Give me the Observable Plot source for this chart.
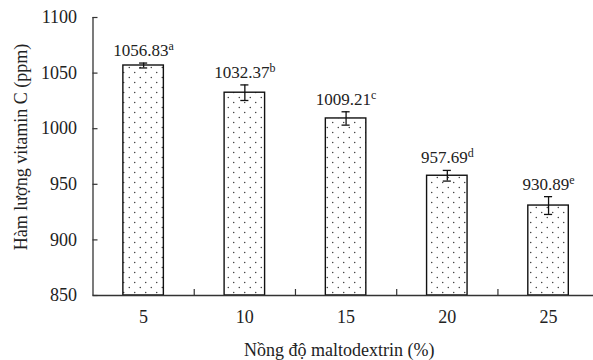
<!DOCTYPE html>
<html>
<head>
<meta charset="utf-8">
<script src="https://cdn.jsdelivr.net/npm/d3@7"></script>
<script src="https://cdn.jsdelivr.net/npm/@observablehq/plot@0.6"></script>
<style>
  html, body { margin: 0; padding: 0; background: #fff; }
  #chart svg { display: block; }
</style>
</head>
<body>
<div id="chart"></div>
<script>
// Data
const concentrations = [5, 10, 15, 20, 25];
const vitaminC = [1056.83, 1032.37, 1009.21, 957.69, 930.89];
const errors = [2.2, 7, 6, 4.8, 8];
const letters = ["a", "b", "c", "d", "e"];
const yTicks = [850, 900, 950, 1000, 1050, 1100];
const xTitle = "Nồng độ maltodextrin (%)";
const yTitle = "Hàm lượng vitamin C (ppm)";

const W = 593, H = 360;
const mL = 92.5, mR = 0, mT = 17, mB = 65;
const plotW = W - mL - mR, plotH = H - mT - mB;
const halfBar = 1.0, halfCap = 0.2;

const rows = concentrations.map((c, i) => ({
  c, v: vitaminC[i], e: errors[i], letter: letters[i],
  label: vitaminC[i].toFixed(2)
}));
const boundaries = d3.pairs(concentrations).map(([a, b]) => (a + b) / 2);

const chart = Plot.plot({
  width: W, height: H,
  marginLeft: mL, marginRight: mR, marginTop: mT, marginBottom: mB,
  style: { fontFamily: "'Liberation Serif', 'Times New Roman', serif", fontSize: "18px", color: "#222", background: "#fff" },
  x: { type: "linear", domain: [2.5, 27.22] },
  y: { domain: [850, 1100] },
  marks: [
    Plot.rectY(rows, { x1: d => d.c - halfBar, x2: d => d.c + halfBar, y1: 850, y2: "v", fill: "url(#dots)", stroke: "#111", strokeWidth: 1.4 }),
    Plot.ruleX(rows, { x: "c", y1: d => d.v - d.e, y2: d => d.v + d.e, stroke: "#111", strokeWidth: 1.3 }),
    Plot.ruleY(rows, { y: d => d.v + d.e, x1: d => d.c - halfCap, x2: d => d.c + halfCap, stroke: "#111", strokeWidth: 1.3 }),
    Plot.ruleY(rows, { y: d => d.v - d.e, x1: d => d.c - halfCap, x2: d => d.c + halfCap, stroke: "#111", strokeWidth: 1.3 }),
    Plot.text(rows, { x: "c", y: d => d.v + d.e, text: "label", dy: -7, lineAnchor: "bottom", fontSize: 17, fill: "#222", className: "vlabel" }),
    Plot.ruleX([2.5], { stroke: "#333", strokeWidth: 1.3 }),
    Plot.ruleY([850], { stroke: "#333", strokeWidth: 1.3 }),
    Plot.tickY(yTicks, { y: d => d, insetRight: plotW - 5, stroke: "#333", strokeWidth: 1.2 }),
    Plot.tickX(boundaries, { x: d => d, insetTop: plotH - 6, stroke: "#333", strokeWidth: 1.2 }),
    Plot.axisY({ ticks: yTicks, tickSize: 0, tickPadding: 16, tickFormat: d => String(d), fill: "#222", label: null }),
    Plot.axisX({ ticks: concentrations, tickSize: 0, tickPadding: 15, tickFormat: d => String(d), fill: "#222", label: null }),
    Plot.text([xTitle], { frameAnchor: "bottom", textAnchor: "middle", dx: -4, dy: 55, lineAnchor: "middle", text: d => d, fill: "#222", fontSize: 18 }),
    Plot.text([yTitle], { frameAnchor: "left", textAnchor: "middle", dx: -72, dy: -9.5, rotate: -90, lineAnchor: "middle", text: d => d, fill: "#222", fontSize: 18 })
  ]
});

// pattern definition for the dotted bar fill
const svg = d3.select(chart);
const defs = svg.insert("defs", ":first-child");
const pat = defs.append("pattern").attr("id", "dots").attr("patternUnits", "userSpaceOnUse")
  .attr("width", 11).attr("height", 10);
pat.append("rect").attr("width", 11).attr("height", 10).attr("fill", "#fff");
pat.append("circle").attr("cx", 2.75).attr("cy", 2.5).attr("r", 0.65).attr("fill", "#222");
pat.append("circle").attr("cx", 8.25).attr("cy", 7.5).attr("r", 0.65).attr("fill", "#222");

// superscript significance letters
svg.selectAll(".vlabel text").each(function () {
  const t = d3.select(this);
  const idx = rows.findIndex(r => r.label === t.text());
  if (idx >= 0) {
    t.append("tspan").attr("font-size", 12).attr("dy", "-0.5em").text(rows[idx].letter);
  }
});

document.getElementById("chart").appendChild(chart);
</script>
</body>
</html>
